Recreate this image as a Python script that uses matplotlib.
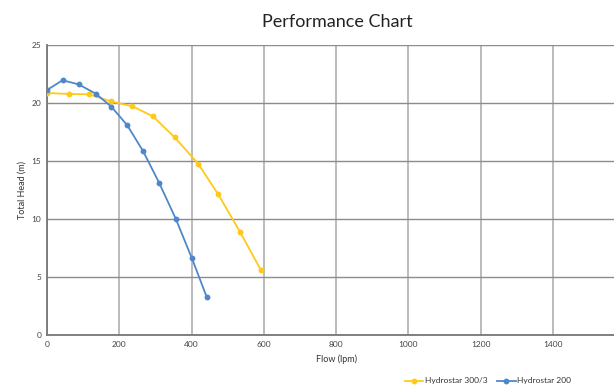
import matplotlib
matplotlib.use("Agg")
import matplotlib.pyplot as plt

# Data
flow_300 = [0, 62, 116, 176, 236, 293, 353, 418, 473, 534, 592]
head_300 = [20.86, 20.78, 20.75, 20.15, 19.72, 18.85, 17.04, 14.77, 12.16, 8.88, 5.58]
flow_200 = [0, 43, 88, 135, 178, 222, 266, 310, 356, 401, 442]
head_200 = [21.12, 21.96, 21.6, 20.8, 19.68, 18.08, 15.84, 13.13, 10.03, 6.6, 3.26]
x_ticks = [0, 200, 400, 600, 800, 1000, 1200, 1400, 1600]
y_ticks = [0, 5, 10, 15, 20, 25]

plt.rcParams['font.family'] = ['Lato', 'DejaVu Sans']

fig = plt.figure(figsize=(6.14, 3.87), dpi=100)
ax = fig.add_axes([47/614, 1-335/387, (625.4-47)/614, (335-45)/387])

yellow = '#FFC91A'
blue = '#4F88C8'
l1, = ax.plot(flow_300, head_300, color=yellow, lw=1.3, marker='o', ms=3.2, label='Hydrostar 300/3', zorder=3)
l2, = ax.plot(flow_200, head_200, color=blue, lw=1.3, marker='o', ms=3.2, label='Hydrostar 200', zorder=3)

ax.set_xlim(0, 1600)
ax.set_ylim(0, 25)
ax.set_xticks(x_ticks)
ax.set_yticks(y_ticks)
ax.set_xticklabels([str(v) for v in x_ticks], fontsize=6, color='#444444')
ax.set_yticklabels([str(v) for v in y_ticks], fontsize=6, color='#444444')
ax.tick_params(length=0, pad=4)
ax.grid(axis='x', color='#b5b5b5', lw=1.3)
ax.grid(axis='y', color='#8c8c8c', lw=1.0)
ax.set_axisbelow(True)
for s in ['top', 'right']:
    ax.spines[s].set_visible(False)
for s in ['left', 'bottom']:
    ax.spines[s].set_color('#777777')
    ax.spines[s].set_linewidth(1.3)

ax.set_xlabel('Flow (lpm)', fontsize=6.5, color='#333333', labelpad=5)
ax.set_ylabel('Total Head (m)', fontsize=6.5, color='#333333', labelpad=4)

fig.text(337/614, 1-22/387, 'Performance Chart', ha='center', va='center', fontsize=13, color='#222222')

fig.legend(handles=[l1, l2], loc='center', bbox_to_anchor=(488/614, 1-381/387), ncol=2,
           frameon=False, fontsize=6, handlelength=2.2, columnspacing=1.2, handletextpad=0.2,
           labelcolor='#333333')

fig.savefig('out.png', dpi=100)
